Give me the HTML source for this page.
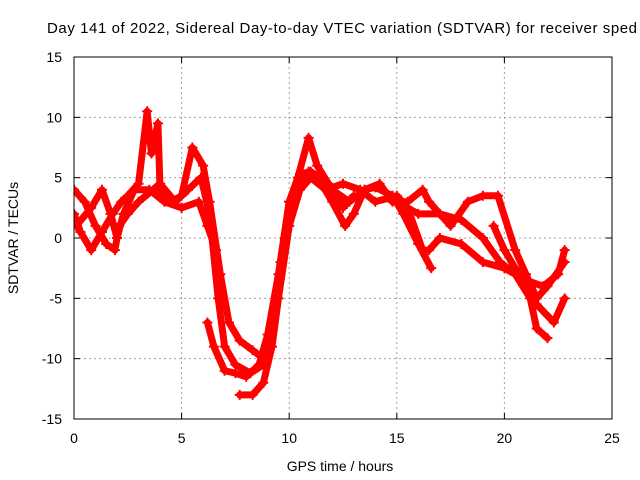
<!DOCTYPE html>
<html><head><meta charset="utf-8"><style>
body{margin:0;background:#fff}
svg{display:block;font-family:"Liberation Sans",sans-serif}
</style></head><body>
<svg id="chart" width="640" height="480">
<text x="47" y="33" font-size="15" textLength="590" lengthAdjust="spacing">Day 141 of 2022, Sidereal Day-to-day VTEC variation (SDTVAR) for receiver sped</text>
<g id="grid"></g><g id="series" clip-path="url(#clip)"></g>
<clipPath id="clip"><rect x="74" y="57" width="538" height="362"/></clipPath>
<rect x="74" y="57" width="538" height="362" fill="none" stroke="#000"/>
<g id="ticks"></g>
<text x="340" y="471" font-size="14" text-anchor="middle">GPS time / hours</text>
<text transform="translate(18,238) rotate(-90)" font-size="14" text-anchor="middle">SDTVAR / TECUs</text>
</svg>
<script>
const xTicks=[0,5,10,15,20,25];
const yTicks=[-15,-10,-5,0,5,10,15];
const track1=[[0,2],[0.3,0.5],[0.8,-1],[1.3,0.5],[1.8,2],[2.2,3],[2.5,3.5],[3,4.5],[3.4,10.5],[3.6,7],[3.9,9.5],[4,4],[4.5,3],[5,3.5],[5.5,7.5],[6,6],[6.3,3],[6.8,-3],[7.2,-7],[7.7,-8.5],[8.3,-9.3],[8.8,-10],[9.2,-7],[9.6,-2],[10,3],[10.4,5],[10.9,8.3],[11.3,6],[12,4],[12.8,3],[13.5,4],[14.2,4.5],[14.8,3],[15.5,3],[16.2,4],[16.5,3],[17.5,1],[18.3,3],[19,3.5],[19.7,3.5],[20.5,-1],[21,-3],[21.5,-5],[22,-4],[22.8,-2]];
const track2=[[0,4],[0.5,3],[1,1],[1.5,-0.5],[1.9,-1],[2.1,1],[2.5,2],[3,3],[4,4.5],[4.7,3],[5.3,4],[5.9,5],[6.3,2],[6.7,-5],[7,-9],[7.5,-10.5],[8.2,-11.2],[8.8,-10.5],[9.3,-6],[9.8,0],[10.3,4],[10.9,5.5],[11.5,4.5],[12,3],[12.6,1],[13,2],[13.5,4],[14,4.2],[14.8,3.5],[15.3,2],[16,-0.5],[16.6,-2.5]];
const track3=[[0.1,1],[0.8,2.5],[1.3,4],[1.7,2],[2,0],[2.3,2],[2.8,4],[3.5,4],[4.2,3],[5,2.5],[5.8,3],[6.2,1],[6.6,-1]];
const track4=[[6.2,-7],[6.5,-9],[7,-11],[7.5,-11.2],[8,-11.5],[8.6,-10.5],[9,-8],[9.5,-3],[10,3],[10.5,5.3],[11,5.5],[11.8,4.5],[12.5,2.5],[13,3.5]];
const track5=[[7.7,-13],[8.3,-13],[8.8,-12],[9.2,-9],[9.5,-5],[10,1],[10.5,4],[11,5],[11.7,4],[12.5,4.5],[13.3,4],[14,3],[15,3.5],[15.5,2.5],[16.2,-1],[16.5,-1],[17,0],[18,-0.5],[19,-2],[20,-2.5],[21,-3.5],[21.8,-4],[22.5,-3],[22.8,-1]];
const track6=[[15,3],[16,2],[17,2],[18,1.5],[19,0],[19.8,-2],[20.5,-3],[21.2,-5],[21.5,-7.5],[22,-8.3]];
const track7=[[19.5,1],[20,-1],[20.5,-2.5],[21.5,-5.5],[22.3,-7],[22.8,-5]];
const tracks=[track1,track2,track3,track4,track5,track6,track7];
const X=t=>74+t*(538/25), Y=v=>238-v*(362/30);
const NS="http://www.w3.org/2000/svg";
const grid=document.getElementById('grid'),ticks=document.getElementById('ticks'),ser=document.getElementById('series');
function mk(tag,at,parent){const e=document.createElementNS(NS,tag);for(const k in at)e.setAttribute(k,at[k]);parent.appendChild(e);return e;}
xTicks.forEach(t=>{const x=X(t);
 if(t>0&&t<25){const l=mk('line',{x1:x,x2:x,y1:57,y2:419,stroke:'#a0a0a0','stroke-dasharray':'2,3'},grid);
 
 }
 const tx=mk('text',{x:x,y:443,'font-size':14,'text-anchor':'middle'},ticks);tx.textContent=t;
 
 
 mk('line',{x1:x,x2:x,y1:419,y2:413,stroke:'#000'},ticks);mk('line',{x1:x,x2:x,y1:57,y2:63,stroke:'#000'},ticks);});
yTicks.forEach(v=>{const y=Y(v);
 if(v>-15&&v<15){const l=mk('line',{x1:74,x2:612,y1:y,y2:y,stroke:'#a0a0a0','stroke-dasharray':'2,3'},grid);
 
 }
 const tx=mk('text',{x:62,y:y+5,'font-size':14,'text-anchor':'end'},ticks);tx.textContent=v;
 
 
 mk('line',{x1:74,x2:80,y1:y,y2:y,stroke:'#000'},ticks);mk('line',{x1:612,x2:606,y1:y,y2:y,stroke:'#000'},ticks);});
tracks.forEach((tr,i)=>{
 const p=mk('polyline',{points:tr.map(d=>X(d[0])+','+Y(d[1])).join(' '),fill:'none',stroke:'#ff0000','stroke-width':7,'stroke-linejoin':'round','stroke-linecap':'round'},ser);
 
 
 tr.forEach(d=>{const x=X(d[0]),y=Y(d[1]);
  const m=mk('path',{d:`M${x-5},${y}h10M${x},${y-5}v10`,stroke:'#ff0000','stroke-width':2},ser);
  
  });
});
</script>
</body></html>
